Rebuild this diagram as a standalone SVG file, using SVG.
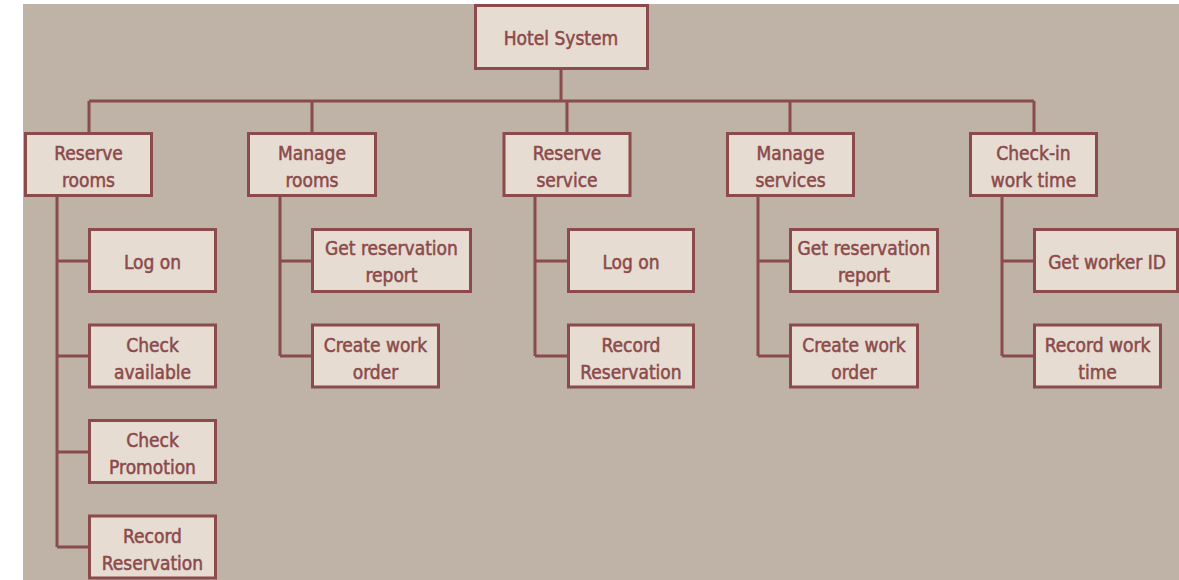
<svg xmlns="http://www.w3.org/2000/svg" width="1179" height="580" viewBox="0 0 1179 580">
  <style>
    .box { fill: #e7dcd1; stroke: #8b4a4b; stroke-width: 3; }
    .wire { fill: none; stroke: #8b4a4b; stroke-width: 3; }
    .lbl { font-family: "DejaVu Sans Condensed", "DejaVu Sans", sans-serif; font-stretch: condensed; font-size: 19px; fill: #8b4a4b; text-anchor: middle; stroke: #8b4a4b; stroke-width: 0.5; }
  </style>
  <rect x="0" y="0" width="1179" height="580" fill="#ffffff"/>
  <rect x="23" y="4" width="1156" height="576" fill="#bfb3a8"/>

  <!-- connectors -->
  <g id="connectors" class="wire">
    <path d="M561 69 V101 M89 101 H1034"/>
    <path d="M89 101 V133 M312 101 V133 M567 101 V133 M790 101 V133 M1034 101 V133"/>
    <path d="M57 197 V547 M57 261 H89 M57 356 H89 M57 452 H89 M57 547 H89"/>
    <path d="M280 197 V356 M280 261 H312 M280 356 H312"/>
    <path d="M535 197 V356 M535 261 H568 M535 356 H568"/>
    <path d="M758 197 V356 M758 261 H790 M758 356 H790"/>
    <path d="M1002 197 V356 M1002 261 H1034 M1002 356 H1034"/>
  </g>

  <g id="hotel-system">
    <rect class="box" x="475.5" y="5.5" width="172" height="63"/>
    <text class="lbl" x="561" y="45">Hotel System</text>
  </g>

  <g id="reserve-rooms">
    <rect class="box" x="25.5" y="133.5" width="126" height="62"/>
    <text class="lbl" x="88.5" y="160">Reserve</text>
    <text class="lbl" x="88.5" y="187">rooms</text>
  </g>
  <g id="rr-log-on">
    <rect class="box" x="89.5" y="229.5" width="126" height="62"/>
    <text class="lbl" x="152.5" y="268.5">Log on</text>
  </g>
  <g id="rr-check-available">
    <rect class="box" x="89.5" y="325" width="126" height="62"/>
    <text class="lbl" x="152.5" y="351.5">Check</text>
    <text class="lbl" x="152.5" y="378.5">available</text>
  </g>
  <g id="rr-check-promotion">
    <rect class="box" x="89.5" y="420.5" width="126" height="62"/>
    <text class="lbl" x="152.5" y="447">Check</text>
    <text class="lbl" x="152.5" y="474">Promotion</text>
  </g>
  <g id="rr-record-reservation">
    <rect class="box" x="89.5" y="516" width="126" height="62"/>
    <text class="lbl" x="152.5" y="542.5">Record</text>
    <text class="lbl" x="152.5" y="569.5">Reservation</text>
  </g>

  <g id="manage-rooms">
    <rect class="box" x="248.5" y="133.5" width="127" height="62"/>
    <text class="lbl" x="312" y="160">Manage</text>
    <text class="lbl" x="312" y="187">rooms</text>
  </g>
  <g id="mr-get-report">
    <rect class="box" x="312.5" y="229.5" width="158" height="62"/>
    <text class="lbl" x="391.5" y="254.5">Get reservation</text>
    <text class="lbl" x="391.5" y="281.5">report</text>
  </g>
  <g id="mr-create-order">
    <rect class="box" x="312.5" y="325" width="126" height="62"/>
    <text class="lbl" x="375.5" y="351.5">Create work</text>
    <text class="lbl" x="375.5" y="378.5">order</text>
  </g>

  <g id="reserve-service">
    <rect class="box" x="504" y="133.5" width="126" height="62"/>
    <text class="lbl" x="567" y="160">Reserve</text>
    <text class="lbl" x="567" y="187">service</text>
  </g>
  <g id="rs-log-on">
    <rect class="box" x="568.5" y="229.5" width="125" height="62"/>
    <text class="lbl" x="631" y="268.5">Log on</text>
  </g>
  <g id="rs-record-reservation">
    <rect class="box" x="568.5" y="325" width="125" height="62"/>
    <text class="lbl" x="631" y="351.5">Record</text>
    <text class="lbl" x="631" y="378.5">Reservation</text>
  </g>

  <g id="manage-services">
    <rect class="box" x="727.5" y="133.5" width="126" height="62"/>
    <text class="lbl" x="790.5" y="160">Manage</text>
    <text class="lbl" x="790.5" y="187">services</text>
  </g>
  <g id="ms-get-report">
    <rect class="box" x="790.5" y="229.5" width="147" height="62"/>
    <text class="lbl" x="864" y="254.5">Get reservation</text>
    <text class="lbl" x="864" y="281.5">report</text>
  </g>
  <g id="ms-create-order">
    <rect class="box" x="790.5" y="325" width="127" height="62"/>
    <text class="lbl" x="854" y="351.5">Create work</text>
    <text class="lbl" x="854" y="378.5">order</text>
  </g>

  <g id="check-in-work-time">
    <rect class="box" x="970.5" y="133.5" width="126" height="62"/>
    <text class="lbl" x="1033.5" y="160">Check-in</text>
    <text class="lbl" x="1033.5" y="187">work time</text>
  </g>
  <g id="ci-get-worker-id">
    <rect class="box" x="1034.5" y="229.5" width="143" height="62"/>
    <text class="lbl" x="1107" y="268.5">Get worker ID</text>
  </g>
  <g id="ci-record-work-time">
    <rect class="box" x="1034.5" y="325" width="126" height="62"/>
    <text class="lbl" x="1097.5" y="351.5">Record work</text>
    <text class="lbl" x="1097.5" y="378.5">time</text>
  </g>
</svg>
